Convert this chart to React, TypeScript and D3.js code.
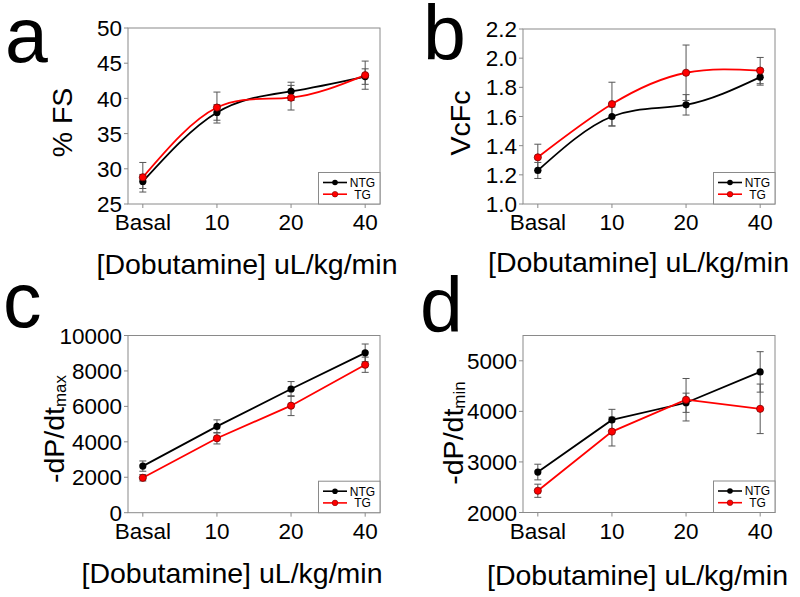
import React from "react";
import * as d3 from "d3";

const categories = ["Basal", "10", "20", "40"];

const fsNTG = [28.2, 38.0, 41.0, 43.1];
const fsNTGErr = [1.0, 1.1, 1.3, 1.1];
const fsTG = [28.8, 38.7, 40.1, 43.3];
const fsTGErr = [2.1, 2.2, 1.75, 2.0];
const fsTicks = [25, 30, 35, 40, 45, 50];

const vcfNTG = [1.23, 1.6, 1.68, 1.87];
const vcfNTGErr = [0.055, 0.065, 0.07, 0.055];
const vcfTG = [1.32, 1.685, 1.9, 1.915];
const vcfTGErr = [0.09, 0.15, 0.19, 0.09];
const vcfTicks = [1.0, 1.2, 1.4, 1.6, 1.8, 2.0, 2.2];

const maxNTG = [2630, 4870, 6980, 9020];
const maxNTGErr = [290, 370, 420, 500];
const maxTG = [1970, 4200, 6040, 8350];
const maxTGErr = [180, 320, 560, 430];
const maxTicks = [0, 2000, 4000, 6000, 8000, 10000];

const minNTG = [2800, 3830, 4170, 4780];
const minNTGErr = [155, 210, 190, 400];
const minTG = [2430, 3600, 4230, 4050];
const minTGErr = [130, 285, 420, 490];
const minTicks = [2000, 3000, 4000, 5000];

const seriesNames = ["NTG", "TG"];
const xTitle = "[Dobutamine] uL/kg/min";

const FONT = "'Liberation Sans', Arial, Helvetica, sans-serif";
const RED = "#ff0000";

type PanelProps = {
  letter: string;
  letterX: number;
  letterY: number;
  left: number;
  top: number;
  right: number;
  bottom: number;
  domain: [number, number];
  ticks: number[];
  fmt: (v: number) => string;
  ntg: number[];
  ntgErr: number[];
  tg: number[];
  tgErr: number[];
  smooth: boolean;
  yTitle: string;
  ySub?: string;
  yTitleX: number;
  yTitleY: number;
  xTitleX: number;
  xTitleY: number;
};

function Panel(p: PanelProps) {
  const w = p.right - p.left;
  const x = d3.scaleLinear().domain([-0.2, 3.2]).range([p.left, p.right]);
  const y = d3.scaleLinear().domain(p.domain).range([p.bottom, p.top]);
  const line = d3
    .line<number>()
    .x((_, i) => x(i))
    .y((d) => y(d))
    .curve(p.smooth ? d3.curveNatural : d3.curveLinear);
  const cap = 3.5;
  const errBars = (vals: number[], errs: number[], key: string) =>
    vals.map((v, i) => {
      const cx = x(i);
      const y1 = y(v + errs[i]);
      const y2 = y(v - errs[i]);
      return (
        <g key={key + i} stroke="#555" strokeWidth={1}>
          <line x1={cx} x2={cx} y1={y1} y2={y2} />
          <line x1={cx - cap} x2={cx + cap} y1={y1} y2={y1} />
          <line x1={cx - cap} x2={cx + cap} y1={y2} y2={y2} />
        </g>
      );
    });
  const lgL = p.right - 61.5;
  const lgT = p.bottom - 31.5;
  return (
    <g>
      <text x={p.letterX} y={p.letterY} fontSize={77} fontFamily={FONT} fill="#000">
        {p.letter}
      </text>
      {/* frame */}
      <rect x={p.left} y={p.top} width={w} height={p.bottom - p.top} fill="none" stroke="#8a8a8a" strokeWidth={1} />
      {/* y ticks */}
      {p.ticks.map((t) => (
        <g key={"yt" + t}>
          <line x1={p.left - 4} x2={p.left} y1={y(t)} y2={y(t)} stroke="#8a8a8a" />
          <text
            x={p.left - 6}
            y={y(t)}
            dy="0.36em"
            textAnchor="end"
            fontSize={22.5}
            fontFamily={FONT}
            fill="#000"
          >
            {p.fmt(t)}
          </text>
        </g>
      ))}
      {/* x ticks */}
      {categories.map((c, i) => (
        <g key={"xt" + c}>
          <line x1={x(i)} x2={x(i)} y1={p.bottom} y2={p.bottom + 4} stroke="#8a8a8a" />
          <text x={x(i)} y={p.bottom + 26} textAnchor="middle" fontSize={22.5} fontFamily={FONT} fill="#000">
            {c}
          </text>
        </g>
      ))}
      {errBars(p.ntg, p.ntgErr, "en")}
      {errBars(p.tg, p.tgErr, "et")}
      <path d={line(p.ntg) || ""} fill="none" stroke="#000" strokeWidth={1.8} />
      <path d={line(p.tg) || ""} fill="none" stroke={RED} strokeWidth={1.8} />
      {p.ntg.map((v, i) => (
        <circle key={"mn" + i} cx={x(i)} cy={y(v)} r={3.6} fill="#000" />
      ))}
      {p.tg.map((v, i) => (
        <circle key={"mt" + i} cx={x(i)} cy={y(v)} r={3.6} fill={RED} stroke="#7a0000" strokeWidth={0.8} />
      ))}
      {/* legend */}
      <rect x={lgL} y={lgT} width={p.right - lgL} height={p.bottom - lgT} fill="#fff" stroke="#8a8a8a" strokeWidth={1} />
      {seriesNames.map((s, i) => {
        const ly = lgT + 10 + i * 11.7;
        const col = i === 0 ? "#000" : RED;
        return (
          <g key={"lg" + s}>
            <line x1={lgL + 4.5} x2={lgL + 28.5} y1={ly} y2={ly} stroke={col} strokeWidth={1.6} />
            <circle cx={lgL + 16.5} cy={ly} r={2.8} fill={col} stroke={i === 0 ? "none" : "#7a0000"} strokeWidth={0.6} />
            <text x={lgL + 44} y={ly} dy="0.36em" textAnchor="middle" fontSize={12} fontFamily={FONT} fill="#000">
              {s}
            </text>
          </g>
        );
      })}
      {/* axis titles */}
      <text
        transform={`translate(${p.yTitleX},${p.yTitleY}) rotate(-90)`}
        textAnchor="middle"
        fontSize={28.5}
        fontFamily={FONT}
        fill="#000"
      >
        {p.yTitle}
        {p.ySub ? (
          <tspan fontSize={17} dy={2}>
            {p.ySub}
          </tspan>
        ) : null}
      </text>
      <text x={p.xTitleX} y={p.xTitleY} fontSize={28.5} fontFamily={FONT} fill="#000">
        {xTitle}
      </text>
    </g>
  );
}

export default function App() {
  const f1 = d3.format(".1f");
  const f0 = d3.format("d");
  return (
    <svg
      width={800}
      height={597}
      viewBox="0 0 800 597"
      style={{ position: "absolute", left: 0, top: 0, background: "#fff" }}
    >
      <rect x={0} y={0} width={800} height={597} fill="#fff" />
      <Panel
        letter="a"
        letterX={5}
        letterY={61.5}
        left={128}
        top={28}
        right={380}
        bottom={204}
        domain={[25, 50]}
        ticks={fsTicks}
        fmt={f0}
        ntg={fsNTG}
        ntgErr={fsNTGErr}
        tg={fsTG}
        tgErr={fsTGErr}
        smooth={true}
        yTitle="% FS"
        yTitleX={71.5}
        yTitleY={122.5}
        xTitleX={96.5}
        xTitleY={273.5}
      />
      <Panel
        letter="b"
        letterX={423}
        letterY={60}
        left={523}
        top={29}
        right={775}
        bottom={204}
        domain={[1.0, 2.2]}
        ticks={vcfTicks}
        fmt={f1}
        ntg={vcfNTG}
        ntgErr={vcfNTGErr}
        tg={vcfTG}
        tgErr={vcfTGErr}
        smooth={true}
        yTitle="VcFc"
        yTitleX={470}
        yTitleY={123}
        xTitleX={488}
        xTitleY={271.5}
      />
      <Panel
        letter="c"
        letterX={3}
        letterY={327}
        left={128}
        top={335.5}
        right={380}
        bottom={512.7}
        domain={[0, 10000]}
        ticks={maxTicks}
        fmt={f0}
        ntg={maxNTG}
        ntgErr={maxNTGErr}
        tg={maxTG}
        tgErr={maxTGErr}
        smooth={false}
        yTitle="-dP/dt"
        ySub="max"
        yTitleX={63.5}
        yTitleY={429}
        xTitleX={81.5}
        xTitleY={583}
      />
      <Panel
        letter="d"
        letterX={420}
        letterY={332}
        left={523}
        top={335.5}
        right={775}
        bottom={512.5}
        domain={[2000, 5500]}
        ticks={minTicks}
        fmt={f0}
        ntg={minNTG}
        ntgErr={minNTGErr}
        tg={minTG}
        tgErr={minTGErr}
        smooth={false}
        yTitle="-dP/dt"
        ySub="min"
        yTitleX={463}
        yTitleY={433}
        xTitleX={487}
        xTitleY={585}
      />
    </svg>
  );
}
